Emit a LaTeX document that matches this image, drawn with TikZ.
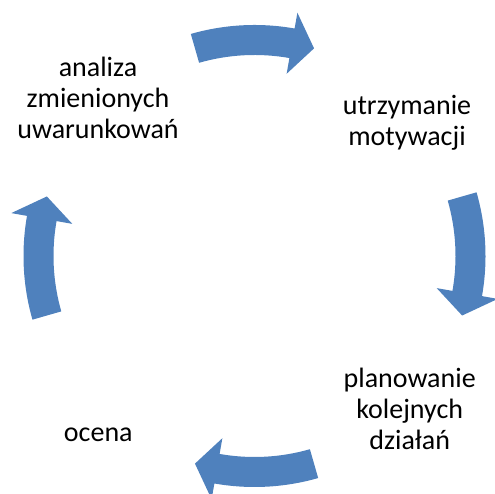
\documentclass[tikz,border=0pt]{standalone}
\usepackage{fontspec}
\setmainfont{Carlito}
\usetikzlibrary{calc}
\definecolor{arrowblue}{HTML}{4F81BD}
\tikzset{
  lbl/.style={inner sep=0pt, anchor=base, align=center, text=black,
    font=\fontsize{28}{31}\selectfont},
  cyclearrow/.style={fill=arrowblue, draw=none}
}
\begin{document}
\begin{tikzpicture}[x=1pt,y=1pt]
\useasboundingbox (0,0) rectangle (495,494);
\coordinate (C) at (254.5,238);
% four clockwise curved arrows, each centred on 90 - k*90 degrees
\foreach \m in {90,0,-90,-180}{
  \pgfmathsetmacro{\ta}{\m+16}
  \pgfmathsetmacro{\hb}{\m-10}
  \pgfmathsetmacro{\tp}{\m-16}
  \fill[cyclearrow] ($(C)+(\ta:231)$) arc[start angle=\ta, end angle=\hb, radius=231]
    -- ($(C)+(\hb:247)$) -- ($(C)+(\tp:216)$) -- ($(C)+(\hb:185)$)
    -- ($(C)+(\hb:201)$) arc[start angle=\hb, end angle=\ta, radius=201] -- cycle;
}
\node[lbl] (analiza) at (98,355) {analiza\\zmienionych\\uwarunkowań};
\node[lbl] (utrz) at (407,348) {utrzymanie\\motywacji};
\node[lbl] (plan) at (409.7,44) {planowanie\\kolejnych\\działań};
\node[lbl] (ocena) at (98.3,52.3) {ocena};
\end{tikzpicture}
\end{document}
